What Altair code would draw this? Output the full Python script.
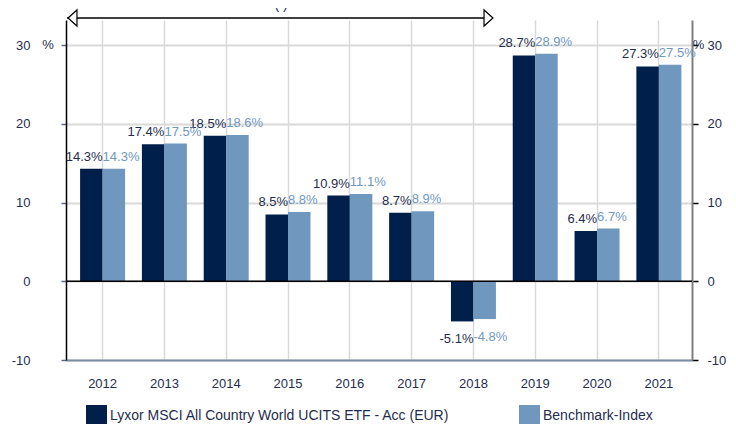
import altair as alt
import pandas as pd

years = ["2012", "2013", "2014", "2015", "2016", "2017", "2018", "2019", "2020", "2021"]
fund = [14.3, 17.4, 18.5, 8.5, 10.9, 8.7, -5.1, 28.7, 6.4, 27.3]
bench = [14.3, 17.5, 18.6, 8.8, 11.1, 8.9, -4.8, 28.9, 6.7, 27.5]
series_names = ["Lyxor MSCI All Country World UCITS ETF - Acc (EUR)", "Benchmark-Index"]
colors = ["#001f4b", "#7098bf"]
y_ticks = [-10, 0, 10, 20, 30]

FONT = "Liberation Sans"
TXT = "#1f2d4e"

df = pd.DataFrame({
    "year": years + years,
    "series": [series_names[0]] * len(years) + [series_names[1]] * len(years),
    "value": fund + bench,
})

yscale = alt.Scale(domain=[-10, 33.2], nice=False, zero=False)
xscale = alt.Scale(paddingInner=0.272, paddingOuter=0.2, align=0.57)

x_enc = alt.X("year:N", sort=years, scale=xscale,
              axis=alt.Axis(title=None, labelAngle=0, grid=True, gridColor="#d9d9d9", gridWidth=1.5,
                            ticks=False, domainColor="#7d8ba3", domainWidth=2,
                            labelFont=FONT, labelFontSize=13, labelColor=TXT, labelPadding=17))
x_plain = alt.X("year:N", sort=years, scale=xscale)
xoff = alt.XOffset("series:N", sort=series_names, scale=alt.Scale(domain=series_names, paddingInner=0, paddingOuter=0))

left_axis = alt.Axis(title=None, values=y_ticks, grid=True, gridColor="#d9d9d9", gridWidth=2,
                     domainColor="#000000", domainWidth=1.5, tickColor="#5b6b85", tickSize=5, tickWidth=1.5,
                     labelFont=FONT, labelFontSize=13, labelColor=TXT, labelPadding=31,
                     labelExpr="'' + datum.value")
right_axis = alt.Axis(title=None, orient="right", values=y_ticks, grid=False,
                      domainColor="#808080", domainWidth=2, tickColor="#000000", tickSize=6, tickWidth=1.5,
                      labelFont=FONT, labelFontSize=13, labelColor=TXT, labelPadding=9,
                      labelExpr="'' + datum.value")

base = alt.Chart(df)

def yenc(field):
    return alt.Y(field, scale=yscale, axis=left_axis)

bars = base.mark_bar().encode(
    x=x_enc,
    xOffset=xoff,
    y=yenc("value:Q"),
    color=alt.Color("series:N", sort=series_names,
                    scale=alt.Scale(domain=series_names, range=colors),
                    legend=alt.Legend(title=None, orient="none", legendX=20, legendY=385,
                                      direction="horizontal", symbolType="square", symbolSize=441,
                                      symbolStrokeWidth=0, symbolOpacity=1, labelFont=FONT,
                                      labelFontSize=14, labelColor=TXT, labelLimit=0,
                                      labelOffset=3, columnPadding=69)),
)

zero = alt.Chart(pd.DataFrame({"value": [0]})).mark_rule(color="#000000", strokeWidth=1.5).encode(
    y=yenc("value:Q")
)

def label_layer(name, color, align, positive):
    cond = "datum.value >= 0" if positive else "datum.value < 0"
    return base.transform_filter(alt.datum.series == name).transform_filter(cond).transform_calculate(
        label="replace(format(datum.value, '.1f'), '\u2212', '-') + '%'"
    ).mark_text(
        font=FONT, fontSize=13, color=color, align=align,
        baseline="bottom" if positive else "top", dy=-5 if positive else 12,
    ).encode(
        x=x_plain,
        y=yenc("value:Q"),
        text="label:N",
    )

labels = [
    label_layer(series_names[0], TXT, "right", True),
    label_layer(series_names[0], TXT, "right", False),
    label_layer(series_names[1], colors[1], "left", True),
    label_layer(series_names[1], colors[1], "left", False),
]

pct = pd.DataFrame({"value": [30]})
pct_left = alt.Chart(pct).mark_text(text="%", font=FONT, fontSize=13, color=TXT).encode(
    x=alt.value(-18), y=yenc("value:Q")
)
pct_right = alt.Chart(pct).mark_text(text="%", font=FONT, fontSize=13, color=TXT).encode(
    x=alt.value(632.5), y=yenc("value:Q")
)

one = pd.DataFrame({"a": [0]})
arrow_line = alt.Chart(one).mark_rule(color="#000000", strokeWidth=1.5).encode(
    x=alt.value(1), x2=alt.value(427), y=alt.value(-2)
)
arrow_left = alt.Chart(one).mark_point(
    shape="M -0.5 0 L 0.5 -0.9 L 0.5 0.9 Z", size=320, filled=True, fill="#ffffff",
    stroke="#000000", strokeWidth=1.2, opacity=1
).encode(x=alt.value(6.5), y=alt.value(-2))
arrow_right = alt.Chart(one).mark_point(
    shape="M 0.5 0 L -0.5 -0.9 L -0.5 0.9 Z", size=320, filled=True, fill="#ffffff",
    stroke="#000000", strokeWidth=1.2, opacity=1
).encode(x=alt.value(422.5), y=alt.value(-2))
paren = alt.Chart(one).mark_text(text="( )", font=FONT, fontSize=14, color=TXT, baseline="bottom").encode(
    x=alt.value(215), y=alt.value(-8)
)

right_dummy = base.mark_bar(opacity=0).encode(
    x=x_plain,
    xOffset=xoff,
    y=alt.Y("value:Q", scale=yscale, axis=right_axis),
)

left_group = alt.layer(bars, zero, *labels, pct_left, pct_right, arrow_line, arrow_left, arrow_right, paren)

chart = alt.layer(left_group, right_dummy).resolve_scale(y="independent").properties(
    width=626, height=340,
    padding={"left": 58, "top": 12, "right": 36, "bottom": 64},
    autosize="none",
).configure_view(strokeWidth=0)

chart.save("out.html", embed_options={"renderer": "svg", "actions": False})
